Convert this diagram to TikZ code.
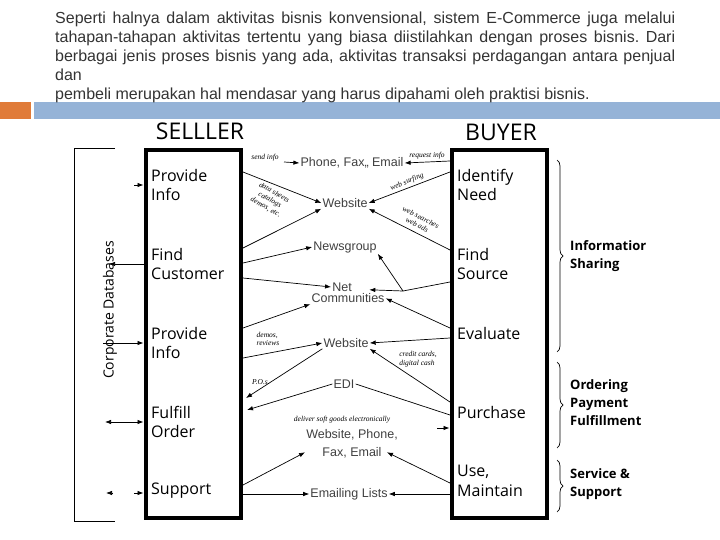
\documentclass[tikz,border=0pt]{standalone}
\usepackage{fontspec}
\setmainfont{Liberation Sans}
\newfontfamily\boxfont{Open Sans}
\newfontfamily\notefont{Liberation Serif}
\usetikzlibrary{positioning, arrows.meta, calc, decorations.pathreplacing}
\definecolor{accent}{HTML}{E07B39}
\definecolor{band}{HTML}{95B3D7}
\frenchspacing
\tikzset{
    lane/.style     = {draw, line width=4pt, minimum width=95pt, minimum height=368pt, inner sep=0pt},
    party/.style    = {font=\boxfont\fontsize{23}{26}\selectfont, inner sep=0pt},
    act/.style      = {font=\boxfont\fontsize{16}{19.5}\selectfont, align=left, anchor=west, inner sep=0pt},
    channel/.style  = {font=\fontsize{12.5}{18}\selectfont, text=black!75, align=center, inner sep=1pt},
    note/.style     = {font=\notefont\itshape\fontsize{7.5}{8.5}\selectfont, align=center, inner sep=0pt},
    phase/.style    = {font=\boxfont\bfseries\fontsize{13}{18}\selectfont, align=left, anchor=west, inner sep=0pt},
    link/.style     = {-{Latex[length=6pt, width=4.5pt]}, line width=0.7pt},
    dlink/.style    = {{Latex[length=6pt, width=4.5pt]}-{Latex[length=6pt, width=4.5pt]}, line width=0.7pt},
    grp/.style      = {decorate, decoration={brace, amplitude=6pt}, line width=0.7pt}
}

\begin{document}
\begin{tikzpicture}[x=1pt, y=-1pt,
        lead/.style = {font=\fontsize{16}{19}\selectfont, text=black!80, anchor=base west, inner sep=0pt}]
    \useasboundingbox (0,0) rectangle (720,540);

    % --- Kopf ---
    \fill[accent] (0,102) rectangle (31,119);
    \fill[band]   (34,102) rectangle (720,119);
    \node[lead] (p1) at (55,24)  {\makebox[620pt][s]{Seperti halnya dalam aktivitas bisnis konvensional, sistem E-Commerce juga melalui}};
    \node[lead] (p2) at (55,43)  {\makebox[620pt][s]{tahapan-tahapan aktivitas tertentu yang biasa diistilahkan dengan proses bisnis. Dari}};
    \node[lead] (p3) at (55,62)  {\makebox[620pt][s]{berbagai jenis proses bisnis yang ada, aktivitas transaksi perdagangan antara penjual}};
    \node[lead] (p4) at (55,81)  {dan};
    \node[lead] (p5) at (55,100) {pembeli merupakan hal mendasar yang harus dipahami oleh praktisi bisnis.};

    % --- Seller ---
    \node[party] (tsel) at (200,131) {SELLLER};
    \node[lane]  (sel)  at (193,334) {};
    \node[act] (sa) at (151,185) {Provide\\Info};
    \node[act] (sb) at (151,264) {Find\\Customer};
    \node[act] (sc) at (151,343) {Provide\\Info};
    \node[act] (sd) at (151,422) {Fulfill\\Order};
    \node[act] (se) at (151,491) {Support};

    % --- Buyer ---
    \node[party] (tbuy) at (501,132) {BUYER};
    \node[lane]  (buy)  at (499,334) {};
    \node[act] (ba) at (457,185) {Identify\\Need};
    \node[act] (bb) at (457,264) {Find\\Source};
    \node[act] (bc) at (457,333) {Evaluate};
    \node[act] (bd) at (457,412) {Purchase};
    \node[act] (be) at (457,481) {Use,\\Maintain};

    % --- Corporate Databases ---
    \coordinate (dbA) at (115,148);
    \coordinate (dbB) at (74,148);
    \coordinate (dbC) at (74,521);
    \coordinate (dbD) at (115,521);
    \draw[line width=0.7pt] (dbA) -- (dbB) -- (dbC) -- (dbD);
    \node[font=\boxfont\fontsize{14}{16}\selectfont, rotate=90, inner sep=0pt] (cdb) at (110,310) {Corporate Databases};

    \coordinate (l1) at (134,185);
    \coordinate (l2) at (109,264);
    \coordinate (l3) at (103,343);
    \coordinate (l4) at (105,422);
    \coordinate (l5a) at (113,493);
    \coordinate (l5b) at (106,493);
    \coordinate (l6) at (134,493);
    \draw[link]  (l1) -- (sel.west |- l1);
    \draw[link]  (sel.west |- l2) -- (l2);
    \draw[link]  (l3) -- (sel.west |- l3);
    \draw[dlink] (l4) -- (sel.west |- l4);
    \draw[link]  (l5a) -- (l5b);
    \draw[link]  (l6) -- (sel.west |- l6);

    % --- Kanaele ---
    \node[channel] (phone) at (352,163) {Phone, Fax,, Email};
    \node[channel] (web1)  at (345,203) {Website};
    \node[channel] (news)  at (345,247) {Newsgroup};
    \node[channel, label={[channel, name=netc, xshift=6pt, inner sep=1pt]below:Communities}] (net) at (342,287) {Net};
    \node[channel] (web2)  at (346,343) {Website};
    \node[channel] (edi)   at (344,384) {EDI};
    \node[channel] (wpfe)  at (352,444) {Website, Phone,\\Fax, Email};
    \node[channel] (mail)  at (349,494) {Emailing Lists};

    \node[note] (n1) at (265,158) {send info};
    \node[note] (n2) at (427,156) {request info};
    \node[note, rotate=-30] (n3) at (270,200) {data sheets\\catalogs\\demos, etc.};
    \node[note, rotate=22]  (n4) at (407,182) {web surfing};
    \node[note, rotate=-27] (n5) at (419,221) {web searches\\web ads};
    \node[note, align=left] (n6) at (268,339) {demos,\\reviews};
    \node[note, align=left] (n7) at (418,359) {credit cards,\\digital cash};
    \node[note] (n8) at (260,382) {P.O.s};
    \node[note] (n9) at (342,420) {deliver soft goods electronically};

    % seller side
    \coordinate (s0)  at (284,162);
    \coordinate (s1)  at (243,172);
    \coordinate (s2)  at (243,248);
    \coordinate (s3)  at (243,263);
    \coordinate (s4)  at (243,278);
    \coordinate (s5)  at (243,328);
    \coordinate (s6)  at (243,358);
    \coordinate (s7)  at (246,398);
    \coordinate (s8)  at (247,410);
    \coordinate (s9)  at (243,485);
    \coordinate (s10) at (243,494);
    % buyer side
    \coordinate (b1)  at (450,161);
    \coordinate (b2)  at (450,172);
    \coordinate (b3)  at (450,250);
    \coordinate (b4)  at (450,282);
    \coordinate (jn)  at (403,291);
    \coordinate (b5)  at (450,328);
    \coordinate (b6)  at (450,338);
    \coordinate (b7)  at (450,402);
    \coordinate (b8)  at (450,415);
    \coordinate (d0)  at (437,428);
    \coordinate (b9)  at (450,483);
    \coordinate (b10) at (450,494);

    \draw[link] (s0) -- (phone.west);
    \draw[link] (s1) -- (web1.west);
    \draw[link] (b1) -- (phone.east);
    \draw[link] (b2) -- (web1.east);
    \draw[link] (b3) -- (web1.south east);
    \draw[link] (s2) -- (web1.south west);
    \draw[link] (s3) -- (news.west);
    \draw[link] (s4) -- (net.west);
    \draw[line width=0.7pt] (b4) -- (jn);
    \draw[link] (jn) -- ($(net.east)!.5!(netc.north east)$);
    \draw[link] (jn) -- (news.south east);
    \draw[link] (s5) -- (netc.south west);
    \draw[link] (b5) -- (netc.east);
    \draw[link] (s6) -- (web2.west);
    \draw[link] (b6) -- (web2.east);
    \draw[link] (web2.south west) -- (s7);
    \draw[link] (b7) -- (web2.south east);
    \draw[line width=0.7pt] (b8) -- (edi.east);
    \draw[link] (edi.west) -- (s8);
    \draw[link] (d0) -- (buy.west |- d0);
    \draw[link] (s9) -- (wpfe.190);
    \draw[link] (b9) -- ($(wpfe.-10)+(-12,0)$);
    \draw[link] (s10) -- (mail.west);
    \draw[link] (b10) -- (mail.east);

    % --- Phasen ---
    \draw[grp] (557,160) -- (557,352);
    \draw[grp] (557,362) -- (557,448);
    \draw[grp] (557,460) -- (557,512);
    \node[phase] (ph1) at (570,256) {Informatior\\Sharing};
    \node[phase] (ph2) at (570,403) {Ordering\\Payment\\Fulfillment};
    \node[phase] (ph3) at (570,484) {Service \&\\Support};
\end{tikzpicture}
\end{document}
